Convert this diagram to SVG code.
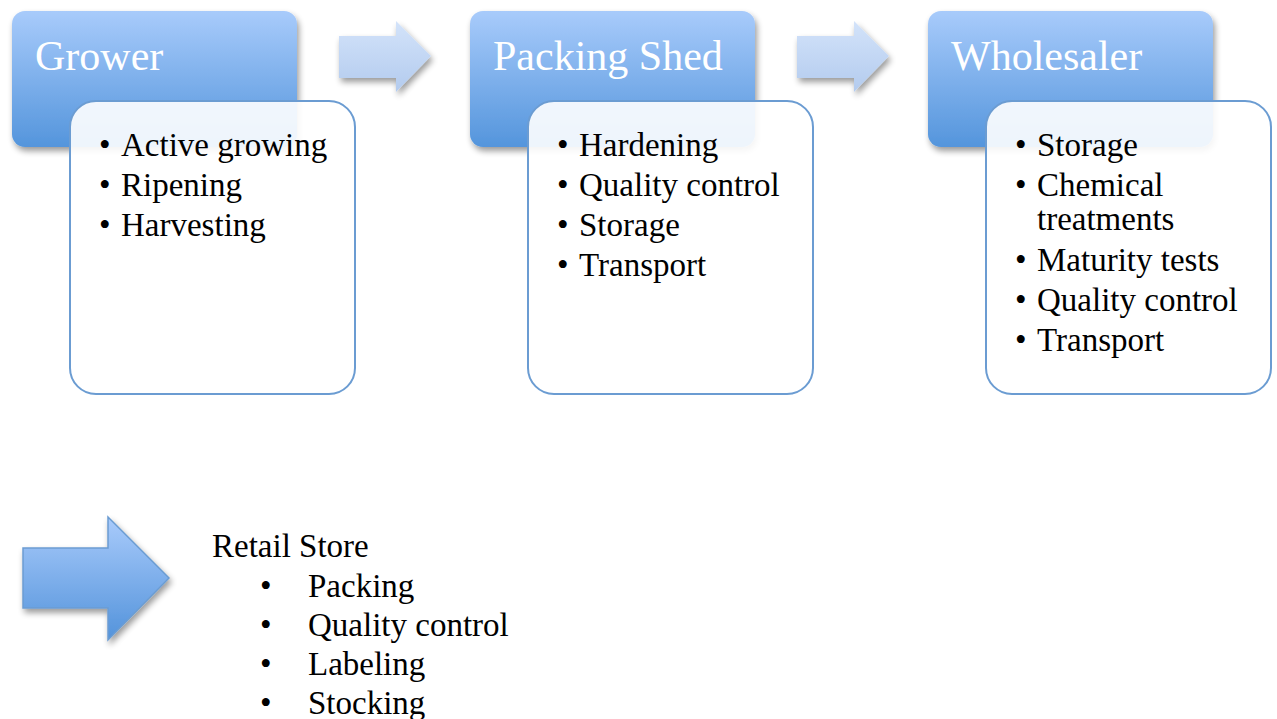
<svg xmlns="http://www.w3.org/2000/svg" width="1277" height="719" viewBox="0 0 1277 719">
<defs>
<linearGradient id="hdr" x1="0" y1="0" x2="0" y2="1">
<stop offset="0" stop-color="#a8cbfb"/>
<stop offset="1" stop-color="#5495dc"/>
</linearGradient>
<linearGradient id="arrLight" x1="0" y1="0" x2="0" y2="1">
<stop offset="0" stop-color="#d3e3fa"/>
<stop offset="1" stop-color="#b3cbee"/>
</linearGradient>
<linearGradient id="arrBig" x1="0" y1="0" x2="0" y2="1">
<stop offset="0" stop-color="#a9cbfb"/>
<stop offset="1" stop-color="#5393db"/>
</linearGradient>
<filter id="sh" x="-10%" y="-10%" width="130%" height="130%">
<feGaussianBlur in="SourceAlpha" stdDeviation="3"/>
<feOffset dx="2" dy="4" result="b"/>
<feComponentTransfer><feFuncA type="linear" slope="0.4"/></feComponentTransfer>
<feMerge><feMergeNode/><feMergeNode in="SourceGraphic"/></feMerge>
</filter>
</defs>
<style>
.hdr{fill:url(#hdr);}
.body{fill:#ffffff;fill-opacity:0.9;stroke:#6b9cd2;stroke-width:2;}
.title{font-family:"Liberation Serif",serif;font-size:42px;fill:#ffffff;}
.item{font-family:"Liberation Serif",serif;font-size:33px;fill:#000000;}
.arrL{fill:url(#arrLight);}
.arrB{fill:url(#arrBig);stroke:#6b9cd2;stroke-width:1.5;}
</style>
<g id="connectors">
<path class="arrL" filter="url(#sh)" d="M339,36 H396 V21 L431,56 L396,92 V78 H339 Z"/>
<path class="arrL" filter="url(#sh)" d="M797,36 H854 V21 L889,56 L854,92 V78 H797 Z"/>
<path class="arrB" filter="url(#sh)" d="M23,548 H108 V517 L169,578 L108,640 V608 H23 Z"/>
</g>
<g id="grower">
<rect class="hdr" filter="url(#sh)" x="12" y="11" width="285" height="136" rx="13"/>
<text class="title" x="35" y="70">Grower</text>
<rect class="body" x="70" y="101" width="285" height="293" rx="26"/>
<text class="item" x="99" y="156">•</text><text class="item" x="121" y="156">Active growing</text>
<text class="item" x="99" y="196">•</text><text class="item" x="121" y="196">Ripening</text>
<text class="item" x="99" y="236">•</text><text class="item" x="121" y="236">Harvesting</text>
</g>
<g id="packing-shed">
<rect class="hdr" filter="url(#sh)" x="470" y="11" width="285" height="136" rx="13"/>
<text class="title" x="493" y="70">Packing Shed</text>
<rect class="body" x="528" y="101" width="285" height="293" rx="26"/>
<text class="item" x="557" y="156">•</text><text class="item" x="579" y="156">Hardening</text>
<text class="item" x="557" y="196">•</text><text class="item" x="579" y="196">Quality control</text>
<text class="item" x="557" y="236">•</text><text class="item" x="579" y="236">Storage</text>
<text class="item" x="557" y="276">•</text><text class="item" x="579" y="276">Transport</text>
</g>
<g id="wholesaler">
<rect class="hdr" filter="url(#sh)" x="928" y="11" width="285" height="136" rx="13"/>
<text class="title" x="951" y="70">Wholesaler</text>
<rect class="body" x="986" y="101" width="285" height="293" rx="26"/>
<text class="item" x="1015" y="156">•</text><text class="item" x="1037" y="156">Storage</text>
<text class="item" x="1015" y="196">•</text><text class="item" x="1037" y="196">Chemical</text>
<text class="item" x="1037" y="230">treatments</text>
<text class="item" x="1015" y="271">•</text><text class="item" x="1037" y="271">Maturity tests</text>
<text class="item" x="1015" y="311">•</text><text class="item" x="1037" y="311">Quality control</text>
<text class="item" x="1015" y="351">•</text><text class="item" x="1037" y="351">Transport</text>
</g>
<g id="retail-store">
<text class="item" x="212" y="557">Retail Store</text>
<text class="item" x="260" y="597">•</text><text class="item" x="308" y="597">Packing</text>
<text class="item" x="260" y="636">•</text><text class="item" x="308" y="636">Quality control</text>
<text class="item" x="260" y="675">•</text><text class="item" x="308" y="675">Labeling</text>
<text class="item" x="260" y="714">•</text><text class="item" x="308" y="714">Stocking</text>
</g>
</svg>
